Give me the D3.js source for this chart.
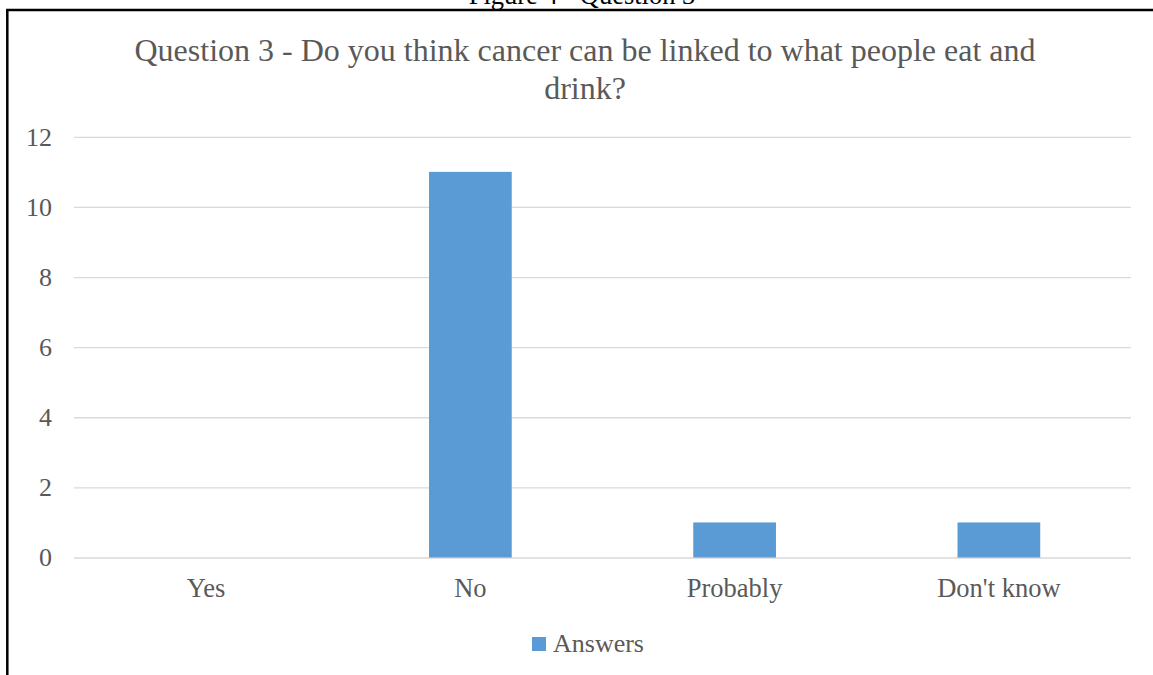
<!DOCTYPE html>
<html>
<head>
<meta charset="utf-8">
<script src="https://cdn.jsdelivr.net/npm/d3@7"></script>
<style>
  html, body { margin: 0; padding: 0; background: #fff; }
  svg { display: block; }
  text { font-family: "Liberation Serif", "Times New Roman", serif; }
</style>
</head>
<body>
<svg id="chart" width="1153" height="675"></svg>
<script>
// Survey responses
const categories = ["Yes", "No", "Probably", "Don't know"];
const answers = [0, 11, 1, 1];
const yTicks = [0, 2, 4, 6, 8, 10, 12];
const seriesName = "Answers";
const titleLines = ["Question 3 - Do you think cancer can be linked to what people eat and", "drink?"];
const caption = "Figure 4 - Question 3";

const svg = d3.select("#chart");
const grey = "#595959";
const barColor = "#5b9bd5";
const serif = "Liberation Serif, Times New Roman, serif";

const plot = { left: 74, right: 1131, top: 136.8, bottom: 557.5 };

// Figure caption above the framed chart (runs off the top of the page)
svg.append("text")
  .attr("x", 582).attr("y", 4)
  .attr("text-anchor", "middle")
  .attr("font-size", 26.5)
  .attr("fill", "#000")
  .text(caption);

// Frame around the chart
svg.append("rect")
  .attr("x", 7.3).attr("y", 10)
  .attr("width", 1200).attr("height", 700)
  .attr("fill", "none")
  .attr("stroke", "#000")
  .attr("stroke-width", 2.5);

const x = d3.scaleBand()
  .domain(categories)
  .range([plot.left, plot.right])
  .paddingInner(0.687)
  .paddingOuter(0.3435);

const y = d3.scaleLinear()
  .domain([0, 12])
  .range([plot.bottom, plot.top]);

// Gridlines and value labels
const yAxis = d3.axisLeft(y)
  .tickValues(yTicks)
  .tickSize(-(plot.right - plot.left))
  .tickPadding(22);

const gy = svg.append("g")
  .attr("transform", `translate(${plot.left},0)`)
  .call(yAxis);
gy.select(".domain").remove();
gy.selectAll(".tick line").attr("stroke", "#d9d9d9").attr("stroke-width", 1.3);
gy.selectAll(".tick text")
  .attr("fill", grey)
  .attr("font-size", 26)
  .attr("font-family", serif);

// Bars
svg.append("g").selectAll("rect")
  .data(categories.map((c, i) => ({ c, v: answers[i] })))
  .join("rect")
  .attr("x", d => x(d.c))
  .attr("width", x.bandwidth())
  .attr("y", d => y(d.v))
  .attr("height", d => y(0) - y(d.v))
  .attr("fill", barColor);

// Category labels
const xAxis = d3.axisBottom(x).tickSize(0).tickPadding(21);
const gx = svg.append("g")
  .attr("transform", `translate(0,${plot.bottom})`)
  .call(xAxis);
gx.select(".domain").remove();
gx.selectAll(".tick text")
  .attr("fill", grey)
  .attr("font-size", 26.5)
  .attr("font-family", serif);

// Chart title
svg.append("text")
  .attr("x", 585).attr("y", 61)
  .attr("text-anchor", "middle")
  .attr("font-size", 32)
  .attr("fill", grey)
  .selectAll("tspan")
  .data(titleLines)
  .join("tspan")
  .attr("x", 585)
  .attr("dy", (d, i) => i === 0 ? 0 : 38)
  .text(d => d);

// Legend
const lg = svg.append("g");
lg.append("rect")
  .attr("x", 532).attr("y", 637)
  .attr("width", 14).attr("height", 14)
  .attr("fill", barColor);
lg.append("text")
  .attr("x", 553).attr("y", 652)
  .attr("font-size", 26)
  .attr("fill", grey)
  .text(seriesName);
</script>
</body>
</html>
